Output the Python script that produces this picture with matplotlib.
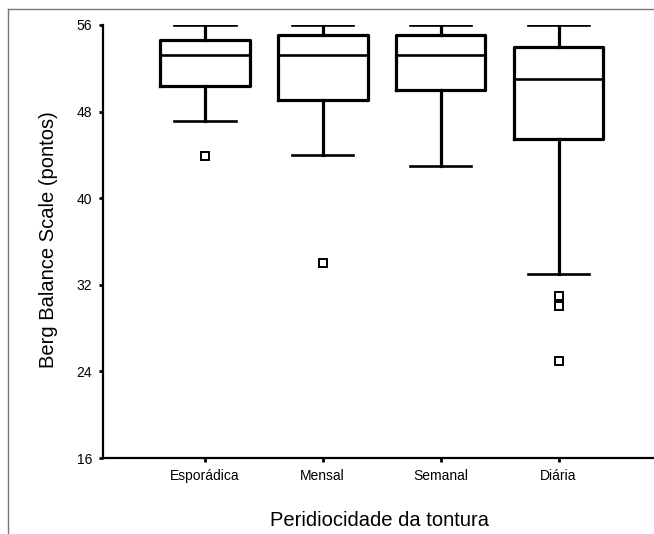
import numpy as np
import matplotlib
matplotlib.use('Agg')
import matplotlib.pyplot as plt
from matplotlib.lines import Line2D

# box statistics
categories = ['Esporádica', 'Mensal', 'Semanal', 'Diária']
whis_hi = [56, 56, 56, 56]
q3 = [54.6, 55.1, 55.1, 54.0]
medians = [53.2, 53.2, 53.2, 51.0]
q1 = [50.4, 49.1, 50.0, 45.5]
whis_lo = [47.1, 44.0, 43.0, 33.0]
fliers = [[43.9], [34.0], [], [31.0, 30.0, 25.0]]

y_ticks = [16, 24, 32, 40, 48, 56]

stats = []
for i in range(len(categories)):
    stats.append({'med': medians[i], 'q1': q1[i], 'q3': q3[i],
                  'whislo': whis_lo[i], 'whishi': whis_hi[i],
                  'fliers': fliers[i], 'label': categories[i]})

fig = plt.figure(figsize=(6.54, 5.34), dpi=100)
ax = fig.add_axes([103/654, 1-458/534, 1-103/654, (458-25)/534])

positions = np.arange(1, len(categories) + 1)
ax.bxp(stats, positions=positions, widths=0.76, capwidths=0.52,
       boxprops=dict(color='black', linewidth=2.3),
       whiskerprops=dict(color='black', linewidth=2.3),
       capprops=dict(color='black', linewidth=1.9),
       medianprops=dict(color='black', linewidth=1.9),
       flierprops=dict(marker='s', markersize=5.5, markerfacecolor='white',
                       markeredgecolor='black', markeredgewidth=1.4))

ax.set_ylim(16, 56)
ax.set_xlim(0.136, 4.81)
ax.set_yticks(y_ticks)
ax.set_xticks(positions)
ax.set_xticklabels(categories)
for s in ['top', 'right']:
    ax.spines[s].set_visible(False)
for s in ['left', 'bottom']:
    ax.spines[s].set_linewidth(1.6)
ax.tick_params(direction='out', length=3, width=2, labelsize=10, pad=5)
for lab in ax.get_xticklabels() + ax.get_yticklabels():
    lab.set_family('Liberation Sans')

fig.text(380/654, 1-520/534, 'Peridiocidade da tontura', ha='center', va='center',
         fontsize=14.5, family='Liberation Sans')
fig.text(49/654, 1-240/534, 'Berg Balance Scale (pontos)', ha='center', va='center',
         rotation=90, fontsize=14.5, family='Liberation Sans')

# gray frame on the left and top
fig.add_artist(Line2D([8/654, 8/654], [0, 1-9/534], transform=fig.transFigure, color='#777777', linewidth=1))
fig.add_artist(Line2D([8/654, 1], [1-9/534, 1-9/534], transform=fig.transFigure, color='#777777', linewidth=1))

fig.savefig('out.png', dpi=100)
